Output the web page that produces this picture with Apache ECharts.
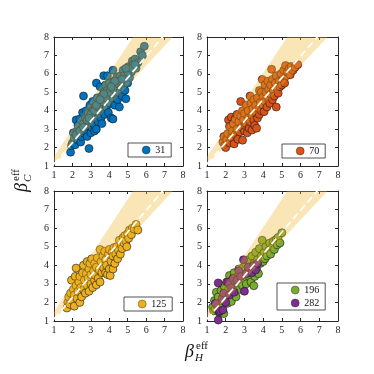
<!DOCTYPE html>
<html>
<head>
<meta charset="utf-8">
<script src="https://cdn.jsdelivr.net/npm/echarts@6/dist/echarts.min.js"></script>
<style>
  html, body { margin: 0; padding: 0; background: #fff; }
  #chart { width: 374px; height: 374px; }
</style>
</head>
<body>
<div id="chart"></div>
<script>
// panel data (beta_H, beta_C)
const pts31 = [[1.9,1.75],[1.95,2.1],[2.0,2.25],[2.05,2.8],[2.1,2.5],[2.15,2.15],[2.2,3.5],[2.25,2.9],[2.3,2.4],[2.3,3.2],[2.35,2.7],[2.4,3.55],[2.45,2.3],[2.5,3.0],[2.5,2.6],[2.55,3.9],[2.6,4.8],[2.6,3.3],[2.65,2.75],[2.7,3.6],[2.7,2.9],[2.75,4.0],[2.8,3.2],[2.8,2.6],[2.85,3.85],[2.9,1.95],[2.9,3.4],[2.95,4.3],[3.0,2.8],[3.0,3.7],[3.05,3.1],[3.1,4.5],[3.1,4.0],[3.15,3.3],[3.2,2.9],[3.2,3.6],[3.25,4.2],[3.3,5.5],[3.3,3.0],[3.35,4.7],[3.4,3.9],[3.4,3.4],[3.45,4.4],[3.5,5.3],[3.5,4.1],[3.55,3.6],[3.6,4.8],[3.6,3.3],[3.65,4.4],[3.7,5.9],[3.7,5.0],[3.75,3.8],[3.8,4.6],[3.8,5.4],[3.85,4.2],[3.9,5.9],[3.9,5.1],[3.95,3.9],[4.0,4.8],[4.0,5.5],[4.05,4.4],[4.1,5.2],[4.1,3.6],[4.15,4.7],[4.2,6.2],[4.2,3.55],[4.25,5.6],[4.3,4.9],[4.3,4.3],[4.35,5.3],[4.4,5.8],[4.45,4.6],[4.5,5.5],[4.5,5.0],[4.55,4.2],[4.6,5.9],[4.65,5.3],[4.7,4.8],[4.75,6.2],[4.8,5.6],[4.85,5.1],[4.9,4.65],[4.95,6.0],[5.0,5.5],[5.05,6.4],[5.1,5.8],[5.2,6.1],[5.25,6.7],[5.3,6.5],[5.4,6.8],[5.45,6.3],[5.55,6.6],[5.7,7.2],[5.8,7.0],[5.9,7.5],
  [2.2,2.7],[2.4,2.9],[2.6,3.1],[2.8,3.5],[3.0,3.8],[3.2,4.0],[3.4,4.2],[3.6,4.5],[3.8,4.7],[4.0,5.0],[4.2,5.2],[4.4,5.5],[4.6,5.6],[4.8,5.9],[5.0,6.1],[5.2,6.3],[5.4,6.5],[3.3,4.3],[3.7,4.9],[4.3,5.6],[4.9,6.3],[2.9,3.6],[3.5,4.6],[4.1,5.3],[4.7,5.7]];
const pts70 = [[1.85,2.3],[1.9,2.6],[1.95,2.1],[2.0,2.0],[2.05,2.45],[2.1,2.75],[2.15,3.5],[2.2,2.25],[2.2,3.15],[2.3,3.65],[2.3,2.55],[2.35,2.9],[2.4,3.3],[2.45,2.2],[2.5,3.55],[2.5,2.7],[2.6,3.0],[2.6,3.8],[2.65,2.45],[2.7,3.4],[2.75,2.85],[2.8,4.5],[2.8,3.7],[2.85,3.1],[2.9,2.4],[2.9,4.0],[2.95,3.5],[3.0,2.9],[3.0,3.85],[3.05,3.2],[3.1,4.3],[3.1,3.3],[3.15,2.8],[3.2,3.6],[3.2,4.0],[3.25,3.05],[3.3,4.8],[3.3,3.4],[3.35,4.4],[3.4,3.75],[3.4,2.95],[3.45,4.1],[3.5,3.5],[3.5,4.6],[3.55,3.2],[3.6,3.9],[3.6,4.3],[3.65,3.05],[3.7,4.7],[3.7,3.6],[3.75,4.1],[3.8,5.1],[3.8,3.8],[3.85,4.45],[3.9,5.0],[3.9,4.0],[3.95,5.7],[4.0,4.3],[4.0,4.75],[4.05,3.95],[4.1,5.4],[4.1,4.5],[4.15,5.0],[4.2,4.2],[4.25,5.6],[4.3,4.6],[4.3,5.15],[4.35,4.4],[4.4,5.4],[4.4,4.9],[4.45,6.25],[4.5,4.6],[4.5,5.7],[4.55,5.1],[4.6,4.8],[4.65,5.5],[4.7,4.2],[4.7,5.9],[4.75,5.2],[4.8,4.95],[4.85,5.6],[4.9,5.3],[4.95,6.0],[5.0,5.4],[5.05,5.7],[5.1,6.2],[5.15,5.5],[5.2,6.45],[5.25,5.9],[5.3,6.1],[5.4,6.3],[5.45,5.95],[5.5,6.4],[5.6,6.2],[5.7,6.35],[5.85,6.5]];
const pts125 = [[1.7,1.7],[1.75,2.0],[1.8,2.3],[1.85,1.9],[1.9,2.5],[1.95,3.2],[2.0,2.1],[2.05,2.7],[2.1,1.8],[2.1,2.4],[2.15,3.4],[2.2,3.85],[2.2,2.9],[2.25,2.2],[2.3,2.6],[2.35,3.1],[2.4,2.0],[2.4,3.4],[2.45,2.8],[2.5,2.3],[2.55,3.6],[2.6,4.0],[2.6,2.7],[2.65,3.2],[2.7,2.5],[2.75,3.55],[2.8,2.9],[2.8,4.2],[2.85,3.3],[2.9,2.6],[2.9,3.8],[2.95,4.1],[3.0,3.0],[3.0,3.5],[3.05,4.35],[3.1,2.8],[3.15,3.7],[3.2,3.2],[3.2,4.1],[3.25,3.45],[3.3,2.95],[3.3,3.9],[3.35,4.4],[3.4,3.3],[3.45,3.75],[3.5,4.85],[3.5,3.1],[3.55,4.2],[3.6,3.6],[3.65,4.5],[3.7,3.85],[3.75,4.75],[3.8,3.6],[3.8,4.3],[3.85,4.0],[3.9,3.5],[3.95,4.6],[4.0,3.8],[4.0,4.85],[4.05,3.45],[4.1,4.2],[4.15,4.7],[4.2,3.8],[4.2,4.5],[4.25,4.95],[4.3,4.1],[4.35,4.6],[4.4,5.0],[4.45,4.35],[4.5,4.8],[4.55,5.35],[4.6,4.6],[4.65,5.1],[4.7,4.9],[4.75,5.5],[4.8,5.2],[4.85,5.6],[4.9,5.3],[4.95,5.0],[5.0,5.7],[5.05,5.45],[5.1,5.9],[5.2,5.65],[5.25,6.0],[5.35,5.95],[5.45,6.2],[5.55,5.9]];
const pts196 = [[1.3,1.75],[1.35,1.55],[1.4,2.1],[1.45,1.65],[1.5,2.55],[1.55,1.85],[1.6,2.3],[1.65,1.45],[1.7,2.0],[1.75,2.65],[1.8,1.7],[1.85,2.3],[1.9,1.4],[1.9,2.9],[1.95,2.1],[2.0,2.5],[2.05,3.1],[2.1,1.95],[2.15,2.7],[2.2,3.45],[2.2,2.3],[2.25,2.9],[2.3,2.05],[2.35,3.2],[2.4,2.6],[2.45,3.6],[2.5,2.8],[2.55,2.3],[2.6,3.4],[2.65,3.0],[2.7,3.8],[2.75,2.7],[2.8,3.2],[2.85,3.6],[2.9,2.9],[2.95,3.9],[3.0,3.3],[3.05,4.1],[3.1,3.0],[3.15,3.6],[3.2,4.3],[3.25,3.4],[3.3,3.8],[3.35,3.1],[3.4,4.5],[3.45,3.6],[3.5,2.9],[3.5,4.1],[3.55,3.4],[3.6,4.7],[3.65,3.8],[3.7,4.3],[3.75,3.55],[3.8,4.9],[3.85,4.1],[3.9,4.5],[3.95,5.35],[4.0,4.2],[4.05,4.7],[4.1,4.35],[4.15,5.0],[4.2,4.5],[4.3,4.8],[4.35,5.2],[4.4,4.6],[4.5,5.0],[4.55,5.3],[4.6,4.85],[4.7,5.4],[4.75,5.1],[4.8,5.5],[4.9,5.2],[5.0,5.75]];
const pts282 = [[1.45,1.95],[1.6,1.05],[1.65,1.5],[1.6,3.05],[1.7,1.55],[1.8,2.2],[1.85,1.6],[1.9,2.5],[2.0,2.0],[2.1,3.1],[2.2,2.4],[2.3,2.8],[2.4,3.3],[2.45,2.55],[2.6,3.2],[2.7,3.7],[2.8,3.4],[2.95,4.3],[3.0,2.6],[3.1,3.55],[3.2,3.9],[3.4,3.6],[3.5,4.0],[3.6,3.75],[3.7,4.1]];

// shaded cone and dashed reference line: [x, yLow, yHigh]
const bandEdges = [[1, 1.05, 1.5], [8, 8.6, 12.1]];
const refLine = [[1, 1.1], [8, 9.3]];

const colors = {'31': '#0072BD', '70': '#D95319', '125': '#EDB120', '196': '#77AC30', '282': '#7E2F8E'};
const panels = [
  {series: [['31', pts31]], grid: {left: 54, top: 37, width: 129, height: 129}, legend: {left: 128, top: 143, w: 17}},
  {series: [['70', pts70]], grid: {left: 207, top: 37, width: 131, height: 129}, legend: {left: 282, top: 144, w: 16}},
  {series: [['125', pts125]], grid: {left: 54, top: 191, width: 129, height: 130}, legend: {left: 124, top: 297, w: 20}},
  {series: [['196', pts196], ['282', pts282]], grid: {left: 207, top: 191, width: 131, height: 130}, legend: {left: 277, top: 283, w: 20}}
];

const tickFont = {fontFamily: 'Liberation Serif', fontSize: 10, color: '#262626'};
const axisLine = {show: true, onZero: false, lineStyle: {color: '#262626', width: 1}};

let grid = [], xAxis = [], yAxis = [], series = [], legend = [];
panels.forEach(function (p, i) {
  grid.push(p.grid);
  const base = {type: 'value', min: 1, max: 8, interval: 1, gridIndex: i, splitLine: {show: false},
    axisLine: axisLine, axisTick: {inside: true, length: 3, lineStyle: {color: '#262626'}}};
  xAxis.push(Object.assign({}, base, {position: 'bottom', axisLabel: Object.assign({margin: 4}, tickFont)}));
  xAxis.push(Object.assign({}, base, {position: 'top', axisLabel: {show: false}}));
  yAxis.push(Object.assign({}, base, {position: 'left', axisLabel: Object.assign({margin: 5}, tickFont)}));
  yAxis.push(Object.assign({}, base, {position: 'right', axisLabel: {show: false}}));

  p.series.forEach(function (s) {
    series.push({
      name: s[0], type: 'scatter', xAxisIndex: 2 * i, yAxisIndex: 2 * i, z: 2,
      symbolSize: 8, data: s[1],
      itemStyle: {color: colors[s[0]], borderColor: '#1a1a1a', borderWidth: 0.6, opacity: 1}
    });
  });

  // cone drawn over the points, semi-transparent
  series.push({
    name: 'band' + i, type: 'custom', xAxisIndex: 2 * i, yAxisIndex: 2 * i, z: 3, clip: true,
    data: [0], silent: true,
    renderItem: function (params, api) {
      const a = bandEdges[0], b = bandEdges[1];
      return {
        type: 'polygon',
        shape: {points: [api.coord([a[0], a[1]]), api.coord([b[0], b[1]]), api.coord([b[0], b[2]]), api.coord([a[0], a[2]])]},
        style: {fill: 'rgba(237,177,32,0.33)'}
      };
    }
  });
  series.push({
    name: 'ref' + i, type: 'line', xAxisIndex: 2 * i, yAxisIndex: 2 * i, z: 4, clip: true,
    data: refLine, symbol: 'none', silent: true,
    lineStyle: {color: '#fff', width: 1.7, type: [7, 4]}
  });

  legend.push({
    data: p.series.map(function (s) { return s[0]; }),
    orient: 'vertical', left: p.legend.left, top: p.legend.top,
    borderColor: '#262626', borderWidth: 0.8, borderRadius: 0, backgroundColor: '#fff',
    padding: [2, 6, 2, 14], itemWidth: 8, itemHeight: 8, itemGap: 3, selectedMode: false,
    itemStyle: {borderWidth: 0.4},
    textStyle: {fontFamily: 'Liberation Serif', fontSize: 10, color: '#111', width: p.legend.w, align: 'right'}
  });
});

const mathFont = 'italic 18px "Liberation Serif"';
const option = {
  animation: false,
  backgroundColor: '#fff',
  grid: grid, xAxis: xAxis, yAxis: yAxis, series: series, legend: legend,
  graphic: [
    {type: 'group', x: 185, y: 361, children: [
      {type: 'text', x: 0, y: 0, style: {text: 'β', font: mathFont, fill: '#111', textVerticalAlign: 'bottom'}},
      {type: 'text', x: 11, y: -9, style: {text: 'eff', font: '11px "Liberation Serif"', fill: '#111', textVerticalAlign: 'bottom'}},
      {type: 'text', x: 10, y: 3, style: {text: 'H', font: 'italic 11px "Liberation Serif"', fill: '#111', textVerticalAlign: 'bottom'}}
    ]},
    {type: 'group', x: 31, y: 192, rotation: Math.PI / 2, children: [
      {type: 'text', x: 0, y: 0, style: {text: 'β', font: mathFont, fill: '#111', textVerticalAlign: 'bottom'}},
      {type: 'text', x: 11, y: -9, style: {text: 'eff', font: '11px "Liberation Serif"', fill: '#111', textVerticalAlign: 'bottom'}},
      {type: 'text', x: 10, y: 3, style: {text: 'C', font: 'italic 11px "Liberation Serif"', fill: '#111', textVerticalAlign: 'bottom'}}
    ]}
  ]
};

echarts.init(document.getElementById('chart')).setOption(option);
</script>
</body>
</html>
